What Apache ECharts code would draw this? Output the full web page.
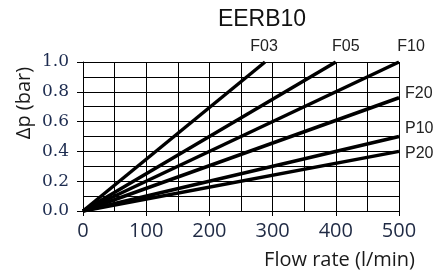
<!DOCTYPE html>
<html>
<head>
<meta charset="utf-8">
<script src="https://cdn.jsdelivr.net/npm/echarts@6/dist/echarts.min.js"></script>
<style>
html,body{margin:0;padding:0;background:#fff;}
#chart{width:446px;height:274px;}
</style>
</head>
<body>
<div id="chart"></div>
<script>
const titleText = 'EERB10';
const xAxisName = 'Flow rate (l/min)';
const yAxisName = 'Δp (bar)';
const seriesNames = ['F03', 'F05', 'F10', 'F20', 'P10', 'P20'];
const flowStart = [0, 0, 0, 0, 0, 0];
const dpStart = [0, 0, 0, 0, 0, 0];
const flowEnd = [288, 400, 500, 500, 500, 500];
const dpEnd = [1.0, 1.0, 1.0, 0.76, 0.5, 0.4];
const xTicks = [0, 100, 200, 300, 400, 500];
const yTicks = [0.0, 0.2, 0.4, 0.6, 0.8, 1.0];

// label placement per series (style only)
const labelPos = ['top', 'top', 'top', 'right', 'right', 'right'];
const labelOffset = [[-1, 0], [10, 0], [12, 0], [0, -4], [0, -8], [0, 2]];

const chart = echarts.init(document.getElementById('chart'), null, {renderer: 'canvas'});

const series = seriesNames.map((name, i) => ({
  name: name,
  type: 'line',
  symbol: 'circle',
  symbolSize: 0,
  showSymbol: true,
  silent: true,
  animation: false,
  lineStyle: {color: '#000', width: 3.5},
  itemStyle: {color: '#000'},
  data: [
    {value: [flowStart[i], dpStart[i]]},
    {value: [flowEnd[i], dpEnd[i]], label: {
      show: true, formatter: name, position: labelPos[i],
      distance: labelPos[i] === 'top' ? 7 : 6,
      offset: labelOffset[i],
      fontFamily: 'Liberation Sans', fontSize: 16, color: '#222'
    }}
  ]
}));

chart.setOption({
  animation: false,
  backgroundColor: '#fff',
  grid: {left: 83, right: 47, top: 62, bottom: 63, containLabel: false},
  xAxis: {
    type: 'value', min: xTicks[0], max: xTicks[xTicks.length - 1], interval: 100,
    axisLine: {show: true, lineStyle: {color: '#000', width: 1}},
    axisTick: {show: true, length: 5, lineStyle: {color: '#000', width: 1}},
    minorTick: {show: false, splitNumber: 2},
    splitLine: {show: true, lineStyle: {color: '#000', width: 1}},
    minorSplitLine: {show: true, lineStyle: {color: '#000', width: 1}},
    axisLabel: {margin: 10, fontFamily: 'Open Sans', fontSize: 20, color: '#1f2a44'}
  },
  yAxis: {
    type: 'value', min: yTicks[0], max: yTicks[yTicks.length - 1], interval: 0.2,
    axisLine: {show: true, lineStyle: {color: '#000', width: 1}},
    axisTick: {show: true, length: 6, lineStyle: {color: '#000', width: 1}},
    minorTick: {show: false, splitNumber: 2},
    splitLine: {show: true, lineStyle: {color: '#000', width: 1}},
    minorSplitLine: {show: true, lineStyle: {color: '#000', width: 1}},
    axisLabel: {margin: 14, fontFamily: 'DejaVu Serif', fontSize: 17, color: '#1c2b4f',
      formatter: v => v.toFixed(1)}
  },
  graphic: [
    {type: 'text', x: 262, y: 20, style: {text: titleText, font: '23px "Liberation Sans"', fill: '#111', align: 'center', verticalAlign: 'middle'}},
    {type: 'text', x: 415, y: 260, style: {text: xAxisName, font: '20px "Open Sans"', fill: '#1a1a1a', align: 'right', verticalAlign: 'middle'}},
    {type: 'text', x: 24, y: 103, rotation: Math.PI / 2, style: {text: yAxisName, font: '20px "Open Sans"', fill: '#1a1a1a', align: 'center', verticalAlign: 'middle'}}
  ],
  series: series
});
</script>
</body>
</html>
